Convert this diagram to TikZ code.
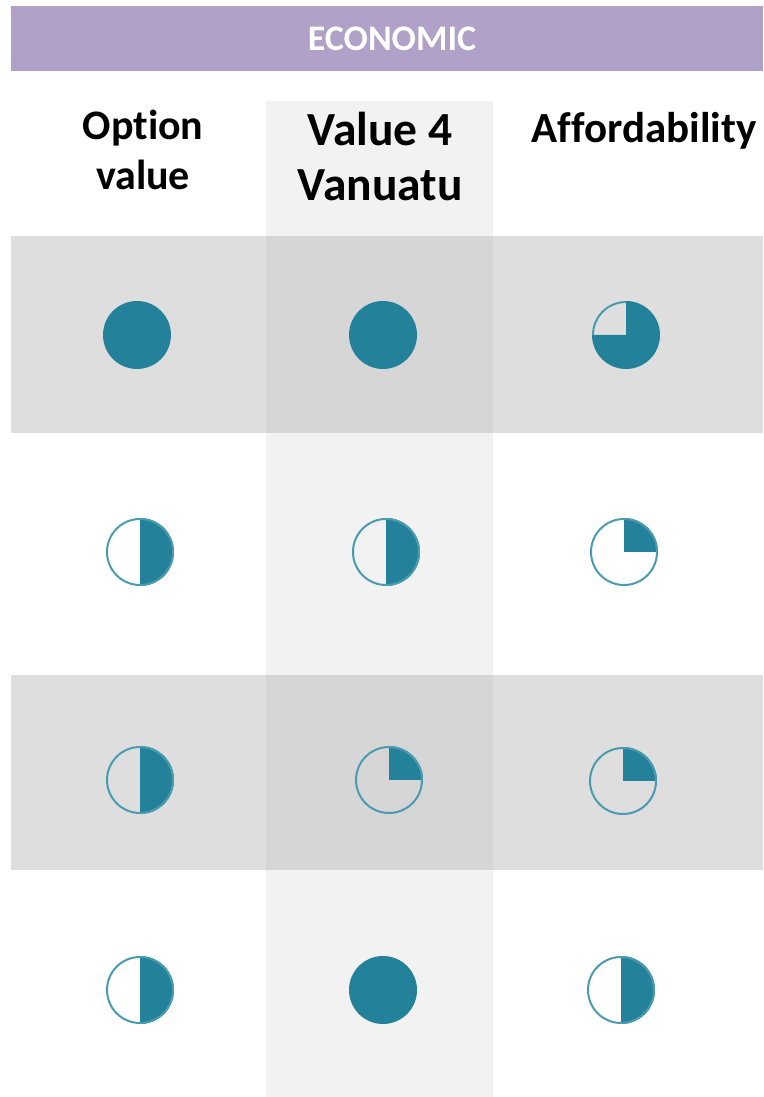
\documentclass[tikz,border=0pt]{standalone}
\usepackage{fontspec}
\setmainfont{Carlito}[Ligatures={NoCommon}]
\definecolor{hdr}{HTML}{B1A0C7}
\definecolor{band}{HTML}{DEDEDE}
\definecolor{colhl}{HTML}{F2F2F2}
\definecolor{cross}{HTML}{D6D6D6}
\definecolor{teal}{HTML}{23819A}
\definecolor{tealline}{HTML}{4A9BB0}
\tikzset{
  pieout/.style={draw=tealline, line width=2pt},
  piefill/.style={fill=teal},
  hdrtext/.style={text=white, font=\fontsize{36}{40}\selectfont\bfseries},
  coltext/.style={align=center, font=\fontsize{42}{50}\selectfont\bfseries},
  bigtext/.style={align=center, font=\fontsize{47.5}{55}\selectfont\bfseries},
  afftext/.style={font=\fontsize{43}{50}\selectfont\bfseries},
}
\newcommand{\pfull}[1]{\fill[piefill] (#1) circle (34);}
\newcommand{\phalf}[1]{\fill[piefill] (#1) -- ++(0,34) arc[start angle=90,end angle=-90,radius=34] -- cycle; \draw[pieout] (#1) circle (33);}
\newcommand{\pquart}[1]{\fill[piefill] (#1) -- ++(0,34) arc[start angle=90,end angle=0,radius=34] -- cycle; \draw[pieout] (#1) circle (33);}
\newcommand{\pthree}[1]{\fill[piefill] (#1) -- ++(0,34) arc[start angle=90,end angle=-180,radius=34] -- cycle; \draw[pieout] (#1) ++(-33,0) arc[start angle=180,end angle=90,radius=33];}
\begin{document}
\begin{tikzpicture}[x=1pt,y=1pt]
\useasboundingbox (0,0) rectangle (763,1097);
% backgrounds
\fill[colhl] (266,0) rectangle (493,996);
\fill[band] (11,664) rectangle (763,861);
\fill[band] (11,227) rectangle (763,422);
\fill[cross] (266,664) rectangle (493,861);
\fill[cross] (266,227) rectangle (493,422);
% header
\fill[hdr] (11,1026) rectangle (763,1091);
\node[hdrtext] (hdr) at (392,1058) {ECONOMIC};
% column headers
\node[coltext] (h1) at (143,947) {Option\\value};
\node[bigtext] (h2) at (380,940) {Value 4\\Vanuatu};
\node[afftext] (h3) at (644,966) {Affordability};
% centres
\coordinate (r1c1) at (137,762);
\coordinate (r1c2) at (383,762);
\coordinate (r1c3) at (626,762);
\coordinate (r2c1) at (140,545);
\coordinate (r2c2) at (386,545);
\coordinate (r2c3) at (624,545);
\coordinate (r3c1) at (140,317);
\coordinate (r3c2) at (389,317);
\coordinate (r3c3) at (623,316);
\coordinate (r4c1) at (140,107);
\coordinate (r4c2) at (383,107);
\coordinate (r4c3) at (621,107);
% pies
\pfull{r1c1} \pfull{r1c2} \pthree{r1c3}
\phalf{r2c1} \phalf{r2c2} \pquart{r2c3}
\phalf{r3c1} \pquart{r3c2} \pquart{r3c3}
\phalf{r4c1} \pfull{r4c2} \phalf{r4c3}
\end{tikzpicture}
\end{document}
